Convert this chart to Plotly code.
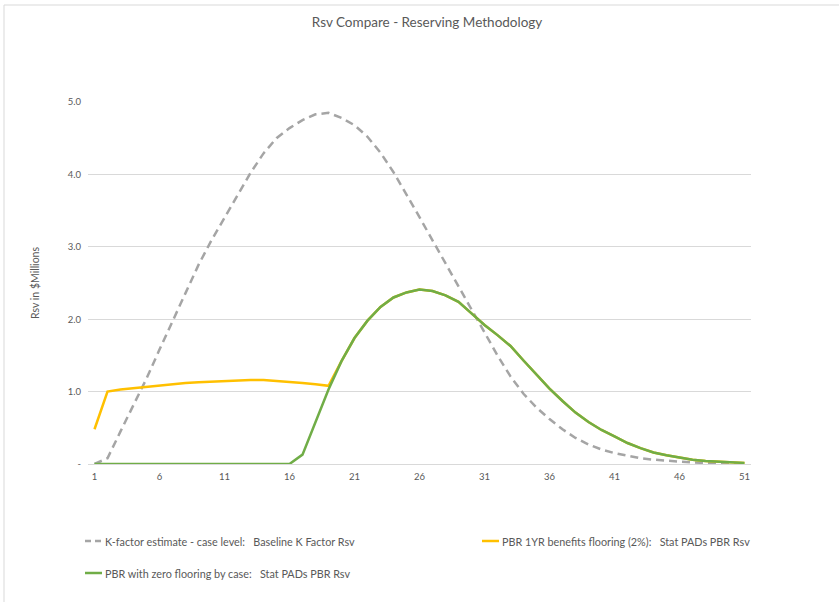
import plotly.graph_objects as go

# Projection years (category axis)
years = list(range(1, 52))

# Reserve in $ millions by projection year
k_factor_rsv = [0.00, 0.08, 0.45, 0.82, 1.18, 1.58, 1.98, 2.36, 2.75, 3.09,
                3.40, 3.72, 4.02, 4.29, 4.50, 4.64, 4.75, 4.83, 4.85, 4.78,
                4.68, 4.52, 4.30, 4.03, 3.73, 3.41, 3.09, 2.77, 2.45, 2.13,
                1.81, 1.50, 1.21, 0.97, 0.78, 0.62, 0.48, 0.36, 0.27, 0.20,
                0.15, 0.11, 0.08, 0.06, 0.045, 0.03, 0.02, 0.015, 0.01, 0.005,
                0.00]

pbr_floor_rsv = [0.48, 1.00, 1.03, 1.05, 1.07, 1.09, 1.11, 1.12, 1.13, 1.14,
                 1.15, 1.155, 1.16, 1.16, 1.15, 1.14, 1.12, 1.10, 1.08, 1.42,
                 1.74, 1.98, 2.17, 2.30, 2.37, 2.41, 2.39, 2.33, 2.24, 2.08,
                 1.92, 1.78, 1.63, 1.43, 1.23, 1.04, 0.87, 0.71, 0.58, 0.47,
                 0.38, 0.29, 0.22, 0.16, 0.12, 0.085, 0.06, 0.04, 0.03, 0.02,
                 0.015]

pbr_zero_rsv = [0.00, 0.00, 0.00, 0.00, 0.00, 0.00, 0.00, 0.00, 0.00, 0.00,
                0.00, 0.00, 0.00, 0.00, 0.00, 0.00, 0.13, 0.59, 1.03, 1.42,
                1.74, 1.98, 2.17, 2.30, 2.37, 2.41, 2.39, 2.33, 2.24, 2.08,
                1.92, 1.78, 1.63, 1.43, 1.23, 1.04, 0.87, 0.71, 0.58, 0.47,
                0.38, 0.29, 0.22, 0.16, 0.12, 0.085, 0.06, 0.04, 0.03, 0.02,
                0.015]

series_names = [
    "K-factor estimate - case level:\u00a0\u00a0 Baseline K Factor Rsv",
    "PBR 1YR benefits flooring (2%):\u00a0\u00a0 Stat PADs PBR Rsv",
    "PBR with zero flooring by case:\u00a0\u00a0 Stat PADs PBR Rsv",
]

x_ticks = [1, 6, 11, 16, 21, 26, 31, 36, 41, 46, 51]
y_ticks = [0, 1, 2, 3, 4, 5]
y_tick_text = ["-", "1.0", "2.0", "3.0", "4.0", "5.0"]

GRAY = "#A5A5A5"
GOLD = "#FFC000"
GREEN = "#70AD47"
TEXT = "#595959"
GRID = "#D9D9D9"
FONT = "Lato, 'Open Sans', sans-serif"

W, H = 839, 602
L, R, T, B = 88, 88, 102, 138
PW, PH = W - L - R, H - T - B


def fx(px):
    """Pixel x -> paper x."""
    return (px - L) / PW


def fy(py):
    """Pixel y -> paper y."""
    return (H - B - py) / PH


fig = go.Figure()
fig.add_trace(go.Scatter(x=years, y=k_factor_rsv, mode="lines", name=series_names[0],
                         line=dict(color=GRAY, width=2.5, dash="8px,5px"),
                         showlegend=False))
fig.add_trace(go.Scatter(x=years, y=pbr_floor_rsv, mode="lines", name=series_names[1],
                         line=dict(color=GOLD, width=2.5), showlegend=False))
fig.add_trace(go.Scatter(x=years, y=pbr_zero_rsv, mode="lines", name=series_names[2],
                         line=dict(color=GREEN, width=2.5), showlegend=False))

# Legend drawn as line samples plus text
legend_items = [
    (85, 541, GRAY, "6px,4px", series_names[0]),
    (482, 541, GOLD, "solid", series_names[1]),
    (85, 573, GREEN, "solid", series_names[2]),
]
shapes = []
annotations = []
for lx, ly, col, dash, label in legend_items:
    shapes.append(dict(type="line", xref="paper", yref="paper",
                       x0=fx(lx), x1=fx(lx + 17), y0=fy(ly), y1=fy(ly),
                       line=dict(color=col, width=2.5, dash=dash)))
    annotations.append(dict(xref="paper", yref="paper", x=fx(lx + 18), y=fy(ly),
                            xanchor="left", yanchor="middle", showarrow=False,
                            text=label, font=dict(family=FONT, size=10.8, color=TEXT)))

# Chart frame (top and left edges)
shapes.append(dict(type="line", xref="paper", yref="paper", x0=fx(4), x1=fx(W + 5),
                   y0=fy(5), y1=fy(5), line=dict(color=GRID, width=1)))
shapes.append(dict(type="line", xref="paper", yref="paper", x0=fx(4), x1=fx(4),
                   y0=fy(5), y1=fy(H + 5), line=dict(color=GRID, width=1)))

# Vertical axis title
annotations.append(dict(xref="paper", yref="paper", x=fx(35), y=fy(283),
                        xanchor="center", yanchor="middle", showarrow=False,
                        textangle=-90, text="Rsv in $Millions",
                        font=dict(family=FONT, size=10.5, color=TEXT)))

fig.update_layout(
    width=W, height=H,
    margin=dict(l=L, r=R, t=T, b=B),
    paper_bgcolor="white", plot_bgcolor="white",
    font=dict(family=FONT, color=TEXT),
    title=dict(text="Rsv Compare - Reserving Methodology",
               x=0.509, xanchor="center", y=1 - 22 / H, yanchor="middle",
               font=dict(family=FONT, size=13.5, color=TEXT)),
    xaxis=dict(range=[0.5, 51.5], tickmode="array", tickvals=x_ticks,
               showgrid=False, zeroline=False, showline=True, linecolor=GRID,
               linewidth=1, ticks="", ticklabelstandoff=4,
               tickfont=dict(family=FONT, size=9.5, color=TEXT)),
    yaxis=dict(range=[0, 5.0], tickmode="array", tickvals=y_ticks,
               ticktext=y_tick_text, showgrid=True, gridcolor=GRID, gridwidth=1,
               zeroline=False, showline=False, ticks="", ticklabelstandoff=6,
               tickfont=dict(family=FONT, size=9.5, color=TEXT)),
    shapes=shapes,
    annotations=annotations,
    showlegend=False,
)

fig.write_html("out.html")
